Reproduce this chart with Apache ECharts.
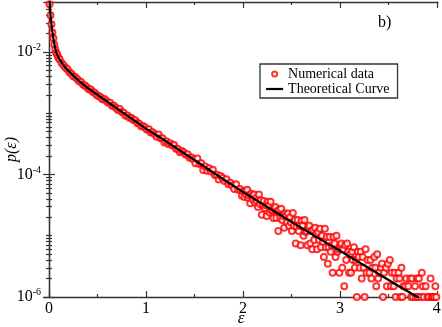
<!DOCTYPE html>
<html><head><meta charset="utf-8">
<script src="https://cdn.jsdelivr.net/npm/echarts@6/dist/echarts.min.js"></script>
<style>html,body{margin:0;padding:0;background:#fff}#c{width:442px;height:327px}</style>
</head><body><div id="c"></div>
<script>
// ---- data ----
const xTicks = [0, 1, 2, 3, 4];
const xMinorTicks = [0.5, 1.5, 2.5, 3.5];
const yTicks = [1e-6, 1e-4, 1e-2];
const yMinorTicks = [2e-6,3e-6,4e-6,5e-6,6e-6,7e-6,8e-6,9e-6,1e-5,2e-5,3e-5,4e-5,5e-5,6e-5,7e-5,8e-5,9e-5,
  2e-4,3e-4,4e-4,5e-4,6e-4,7e-4,8e-4,9e-4,1e-3,2e-3,3e-3,4e-3,5e-3,6e-3,7e-3,8e-3,9e-3,2e-2,3e-2,4e-2,5e-2,6e-2];

const curveEps = [0.005,0.01,0.02,0.03,0.04,0.05,0.06,0.07,0.08,0.1,0.15,0.2,0.3,0.4,0.5,0.6,0.7,0.8,0.9,1.0,1.2,1.4,1.6,1.8,2.0,2.2,2.4,2.6,2.8,3.0,3.2,3.4,3.6,3.8,3.82];
const curveP = [0.0708,0.0501,0.0331,0.0240,0.0186,0.0148,0.0123,0.0106,0.00933,0.00794,0.00603,0.00490,0.00347,0.00257,0.00200,0.00155,0.00120,0.000933,0.000724,0.000562,0.000355,0.000219,0.000135,8.32e-5,5.19e-5,3.31e-5,2.11e-5,1.35e-5,8.71e-6,5.69e-6,3.67e-6,2.37e-6,1.53e-6,1.0e-6,9.6e-7];

const numEps = [0.005,0.015,0.025,0.035,0.045,0.055,0.065,0.075,0.085,0.095,
0.11,0.13,0.15,0.17,0.19,0.21,0.23,0.25,0.27,0.29,0.31,0.33,0.35,0.37,0.39,0.41,0.43,0.45,0.47,0.49,
0.51,0.53,0.55,0.57,0.59,0.61,0.63,0.65,0.67,0.69,0.71,0.73,0.75,0.77,0.79,0.81,0.83,0.85,0.87,0.89,0.91,0.93,0.95,0.97,0.99,
1.01,1.03,1.05,1.07,1.09,1.11,1.13,1.15,1.17,1.19,1.21,1.23,1.25,1.27,1.29,1.31,1.33,1.35,1.37,1.39,1.41,1.43,1.45,1.47,1.49,
1.51,1.53,1.55,1.57,1.59,1.61,1.63,1.65,1.67,1.69,1.71,1.73,1.75,1.77,1.79,1.81,1.83,1.85,1.87,1.89,1.91,1.93,1.95,1.97,1.99,
2.005,2.015,2.025,2.035,2.045,2.055,2.065,2.075,2.085,2.095,2.105,2.115,2.125,2.135,2.145,2.155,2.165,2.175,2.185,2.195,
2.205,2.215,2.225,2.235,2.245,2.255,2.265,2.275,2.285,2.295,2.305,2.315,2.325,2.335,2.345,2.355,2.365,2.375,2.385,2.395,
2.405,2.415,2.425,2.435,2.445,2.455,2.465,2.475,2.485,2.495,2.505,2.515,2.525,2.535,2.545,2.555,2.565,2.575,2.585,2.595,
2.605,2.615,2.625,2.635,2.645,2.655,2.665,2.675,2.685,2.695,2.705,2.715,2.725,2.735,2.745,2.755,2.765,2.775,2.785,2.795,
2.805,2.815,2.825,2.835,2.845,2.855,2.865,2.875,2.885,2.895,2.905,2.915,2.925,2.935,2.945,2.955,2.965,2.975,2.985,2.995,
3.005,3.015,3.025,3.035,3.045,3.055,3.065,3.075,3.085,3.095,3.105,3.115,3.125,3.135,3.145,3.155,3.165,3.175,3.185,3.195,
3.205,3.215,3.225,3.235,3.245,3.255,3.265,3.275,3.285,3.305,3.315,3.325,3.335,3.355,3.365,3.375,3.385,3.395,
3.405,3.425,3.435,3.445,3.455,3.475,3.485,3.495,3.515,3.525,3.535,3.555,3.565,3.575,3.585,
3.605,3.615,3.625,3.635,3.645,3.655,3.675,3.685,3.705,3.725,3.735,3.745,3.755,3.775,3.785,3.795,
3.805,3.815,3.835,3.845,3.855,3.865,3.885,3.905,3.915,3.935,3.945,3.955,3.965,3.975,3.985,3.995];
const numP = [0.0603,0.0398,0.0285,0.0208,0.0168,0.0131,0.0110,0.00965,0.00899,0.00815,
7.55e-3,6.62e-3,6.10e-3,5.53e-3,5.22e-3,4.68e-3,4.43e-3,4.02e-3,3.90e-3,3.61e-3,3.34e-3,3.23e-3,2.95e-3,2.84e-3,2.65e-3,2.46e-3,2.45e-3,2.25e-3,2.17e-3,1.99e-3,
1.92e-3,1.85e-3,1.69e-3,1.71e-3,1.60e-3,1.49e-3,1.48e-3,1.33e-3,1.32e-3,1.23e-3,1.13e-3,1.17e-3,1.05e-3,1.02e-3,9.07e-4,9.17e-4,8.41e-4,8.38e-4,7.78e-4,7.71e-4,6.94e-4,6.74e-4,6.12e-4,6.21e-4,5.83e-4,
5.39e-4,5.50e-4,4.83e-4,4.90e-4,4.55e-4,4.14e-4,4.50e-4,3.92e-4,3.91e-4,3.33e-4,3.50e-4,3.15e-4,3.25e-4,2.98e-4,3.03e-4,2.64e-4,2.60e-4,2.31e-4,2.43e-4,2.28e-4,2.10e-4,2.14e-4,1.87e-4,1.89e-4,1.75e-4,
1.53e-4,1.82e-4,1.48e-4,1.52e-4,1.18e-4,1.35e-4,1.15e-4,1.26e-4,1.12e-4,1.19e-4,9.80e-5,9.90e-5,8.32e-5,9.49e-5,8.75e-5,7.83e-5,8.38e-5,6.90e-5,7.30e-5,6.63e-5,5.79e-5,6.92e-5,5.62e-5,5.78e-5,4.48e-5,
5.35e-5,4.3e-5,5.4e-5,4.65e-5,5.65e-5,4.15e-5,4.55e-5,3.4e-5,4.85e-5,4.45e-5,3.85e-5,4.7e-5,3.45e-5,4.15e-5,3.7e-5,2.95e-5,4.7e-5,3.3e-5,3.8e-5,2.2e-5,
3.15e-5,3.7e-5,2.85e-5,3.15e-5,2.1e-5,3.6e-5,3.1e-5,2.4e-5,3.6e-5,2.6e-5,2.6e-5,1.95e-5,2.75e-5,2.95e-5,1.95e-5,2.5e-5,1.2e-5,2.65e-5,1.95e-5,2.75e-5,
1.8e-5,2.1e-5,1.35e-5,2.3e-5,2.1e-5,1.65e-5,2.3e-5,1.45e-5,2.0e-5,1.65e-5,1.2e-5,2.35e-5,1.45e-5,1.8e-5,7.5e-6,1.4e-5,1.8e-5,1.2e-5,1.45e-5,7.0e-6,
1.75e-5,1.45e-5,1.0e-5,1.8e-5,1.15e-5,1.2e-5,7.0e-6,1.35e-5,1.45e-5,7.5e-6,1.2e-5,6.0e-6,1.25e-5,8.5e-6,1.35e-5,1.05e-5,6.0e-6,1.15e-5,8.5e-6,1.3e-5,
6.5e-6,1.0e-5,8.0e-6,4.5e-6,1.3e-5,6.5e-6,9.5e-6,3.5e-6,6.5e-6,9.5e-6,5.5e-6,7.0e-6,2.5e-6,9.5e-6,7.5e-6,4.5e-6,1.0e-5,5.5e-6,6.0e-6,2.5e-6,
7.0e-6,7.5e-6,3.0e-6,6.0e-6,1.5e-6,7.0e-6,4.0e-6,7.5e-6,5.5e-6,2.5e-6,5.0e-6,2.5e-6,5.5e-6,4.0e-6,6.5e-6,3.0e-6,4.0e-6,1.0e-6,5.5e-6,4.5e-6,
3.0e-6,5.5e-6,2.0e-6,4.5e-6,3.0e-6,1.0e-6,6.0e-6,2.5e-6,4.0e-6,2.5e-6,4.0e-6,2.0e-6,3.0e-6,4.5e-6,3.0e-6,1.5e-6,5.0e-6,2.0e-6,
2.5e-6,3.0e-6,3.5e-6,1.0e-6,2.5e-6,3.0e-6,1.5e-6,3.5e-6,4.0e-6,1.5e-6,2.5e-6,1.5e-6,2.5e-6,1.0e-6,2.0e-6,
2.5e-6,2.0e-6,1.0e-6,3.0e-6,1.0e-6,1.5e-6,1.5e-6,2.0e-6,1.5e-6,2.0e-6,1.0e-6,2.0e-6,1.0e-6,1.5e-6,1.0e-6,2.0e-6,
1.0e-6,2.0e-6,1.0e-6,2.5e-6,1.5e-6,1.0e-6,1.5e-6,1.0e-6,1.0e-6,2.0e-6,1.0e-6,1.0e-6,1.0e-6,1.0e-6,1.5e-6,1.0e-6];

// ---- chart ----
const FONT = '"Liberation Serif", "Times New Roman", serif';
const AX = '#333';
const X_MIN = -0.052, X_MAX = 4.012, Y_MIN = 1e-6, Y_MAX = 0.0655;

function xAxisDef(position, ticks, len, opts) {
  return Object.assign({
    type: 'value', position: position, min: X_MIN, max: X_MAX,
    axisLine: { show: false, lineStyle: { color: AX, width: 1.3 } },
    axisTick: { show: true, inside: true, length: len, customValues: ticks, lineStyle: { color: AX, width: 1.2 } },
    axisLabel: { show: false },
    splitLine: { show: false }
  }, opts || {});
}
function yAxisDef(position, ticks, len, opts) {
  return Object.assign({
    type: 'log', logBase: 10, position: position, min: Y_MIN, max: Y_MAX,
    axisLine: { show: false, lineStyle: { color: AX, width: 1.3 } },
    axisTick: { show: true, inside: true, length: len, customValues: ticks, lineStyle: { color: AX, width: 1.2 } },
    axisLabel: { show: false },
    splitLine: { show: false }
  }, opts || {});
}

const scatterData = numEps.map((e, i) => [e, numP[i]]);
const curveData = curveEps.map((e, i) => [e, curveP[i]]);

const option = {
  animation: false,
  backgroundColor: '#fff',
  grid: { left: 44, right: 4, top: 2, bottom: 30, containLabel: false, outerBoundsMode: 'none' },
  title: { text: 'b)', left: 378, top: 15, padding: 0,
    textStyle: { fontFamily: FONT, fontSize: 16, fontWeight: 'normal', color: '#000' } },
  legend: {
    orient: 'vertical', left: 260, top: 64,
    data: [
      { name: 'Numerical data', icon: 'emptyCircle', itemStyle: { color: '#ff0000', borderColor: '#ff0000', borderWidth: 1 } },
      { name: 'Theoretical Curve', itemStyle: { color: 'rgba(0,0,0,0)', borderColor: 'rgba(0,0,0,0)', borderWidth: 0, opacity: 0 },
        lineStyle: { color: '#000', width: 2.2 } }
    ],
    itemWidth: 17, itemHeight: 5, itemGap: 1,
    padding: [3, 8, 2, 5],
    borderColor: AX, borderWidth: 1.3, backgroundColor: '#fff',
    textStyle: { fontFamily: FONT, fontSize: 14, color: '#000', lineHeight: 14 }
  },
  xAxis: [
    xAxisDef('bottom', xTicks, 6, {
      axisLine: { show: true, lineStyle: { color: AX, width: 1.3 } },
      axisLabel: { show: true, customValues: xTicks, margin: 4, fontFamily: FONT, fontSize: 16, color: '#000' },
      name: 'ε', nameLocation: 'middle', nameGap: 13, nameMoveOverlap: false,
      nameTextStyle: { fontFamily: FONT, fontSize: 17, fontStyle: 'italic', color: '#000' }
    }),
    xAxisDef('bottom', xMinorTicks, 3),
    xAxisDef('top', xTicks, 6, { axisLine: { show: true, lineStyle: { color: AX, width: 1.3 } } }),
    xAxisDef('top', xMinorTicks, 3)
  ],
  yAxis: [
    yAxisDef('left', yTicks, 6, {
      axisLine: { show: true, lineStyle: { color: AX, width: 1.3 } },
      axisLabel: { show: true, customValues: yTicks, margin: 3,
        formatter: v => '{b|10}{s|' + Math.round(Math.log10(v)) + '}',
        rich: {
          b: { fontFamily: FONT, fontSize: 16, color: '#000' },
          s: { fontFamily: FONT, fontSize: 10, color: '#000', padding: [0, 0, 9, 0] }
        }
      },
      name: 'p(ε)', nameLocation: 'middle', nameGap: 24, nameRotate: 90, nameMoveOverlap: false,
      nameTextStyle: { fontFamily: FONT, fontSize: 16, fontStyle: 'italic', color: '#000' }
    }),
    yAxisDef('left', yMinorTicks, 3),
    yAxisDef('right', yTicks, 6, { axisLine: { show: true, lineStyle: { color: AX, width: 1.3 } } }),
    yAxisDef('right', yMinorTicks, 3)
  ],
  series: [
    {
      name: 'Numerical data', type: 'scatter', xAxisIndex: 0, yAxisIndex: 0,
      data: scatterData, symbol: 'emptyCircle', symbolSize: 6,
      itemStyle: { color: '#ff0000', borderColor: '#ff0000', borderWidth: 1.1 },
      z: 2
    },
    {
      name: 'Theoretical Curve', type: 'line', xAxisIndex: 0, yAxisIndex: 0,
      data: curveData, showSymbol: false, symbol: 'none',
      lineStyle: { color: '#000', width: 2.2 }, itemStyle: { color: '#000' },
      z: 3
    }
  ]
};
const chart = echarts.init(document.getElementById('c'), null, { renderer: 'canvas' });
chart.setOption(option);
</script>
</body></html>
